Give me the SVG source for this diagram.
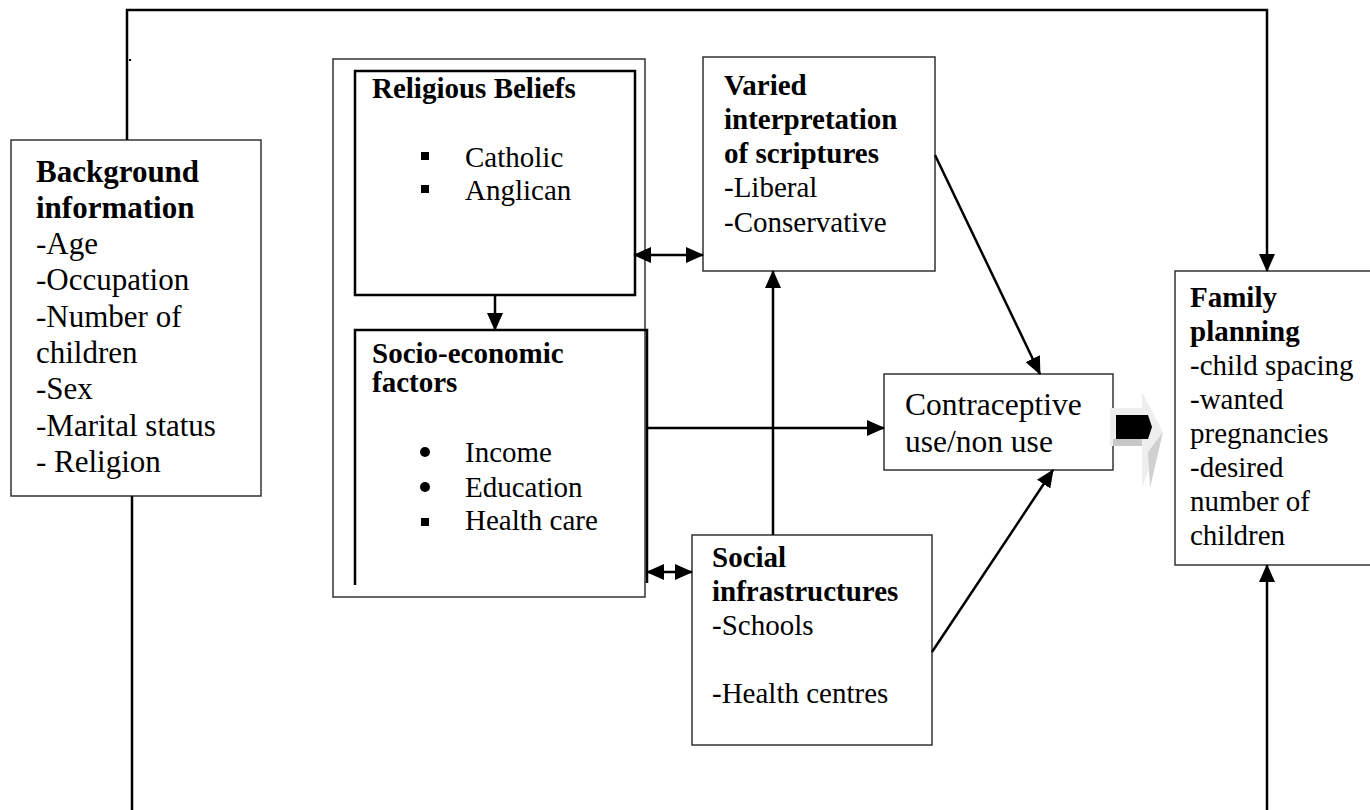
<svg xmlns="http://www.w3.org/2000/svg" width="1370" height="810" viewBox="0 0 1370 810">
<style>
text{font-family:"Liberation Serif","Times New Roman",serif;fill:#000}
.b{font-weight:bold}
.t31{font-size:31px}
.t29{font-size:29px}
.t32{font-size:31.5px}
.box{fill:#fff;stroke:#333;stroke-width:1.5}
.tbox{fill:#fff;stroke:#000;stroke-width:2.5}
.con{fill:none;stroke:#000;stroke-width:2.5}
</style>
<defs>
<marker id="ah" markerUnits="userSpaceOnUse" markerWidth="18" markerHeight="16" viewBox="0 0 18 16" refX="17" refY="8" orient="auto-start-reverse">
<path d="M0,0 L18,8 L0,16 Z" fill="#000"/>
</marker>
</defs>
<rect width="1370" height="810" fill="#fff"/>

<g id="outer">
<rect x="333" y="59" width="312" height="538" class="box"/>
</g>

<g id="background">
<rect x="11" y="140" width="250" height="356" class="box"/>
<text class="t31 b" x="36" y="182">Background</text>
<text class="t31 b" x="36" y="218">information</text>
<text class="t31" x="36" y="254">-Age</text>
<text class="t31" x="36" y="290">-Occupation</text>
<text class="t31" x="36" y="327">-Number of</text>
<text class="t31" x="36" y="363">children</text>
<text class="t31" x="36" y="399">-Sex</text>
<text class="t31" x="36" y="436">-Marital status</text>
<text class="t31" x="36" y="472">- Religion</text>
</g>

<g id="religious">
<rect x="355" y="71" width="280" height="224" class="tbox"/>
<text class="t29 b" x="372" y="98">Religious Beliefs</text>
<rect x="421" y="152" width="8" height="8" fill="#000"/>
<text class="t29" x="465" y="167">Catholic</text>
<rect x="421" y="185" width="8" height="8" fill="#000"/>
<text class="t29" x="465" y="200">Anglican</text>
</g>

<g id="socio">
<path d="M355,585 V330 H647 V583" fill="none" stroke="#000" stroke-width="2.5"/>
<text class="t29 b" x="372" y="363">Socio-economic</text>
<text class="t29 b" x="372" y="392">factors</text>
<circle cx="425" cy="452" r="5" fill="#000"/>
<text class="t29" x="465" y="462">Income</text>
<circle cx="425" cy="487" r="5" fill="#000"/>
<text class="t29" x="465" y="497">Education</text>
<rect x="421" y="518" width="8" height="8" fill="#000"/>
<text class="t29" x="465" y="530">Health care</text>
</g>

<g id="varied">
<rect x="703" y="57" width="232" height="214" class="box"/>
<text class="t29 b" x="724" y="95">Varied</text>
<text class="t29 b" x="724" y="129">interpretation</text>
<text class="t29 b" x="724" y="163">of scriptures</text>
<text class="t29" x="724" y="197">-Liberal</text>
<text class="t29" x="724" y="232">-Conservative</text>
</g>

<g id="social">
<rect x="692" y="535" width="240" height="210" class="box"/>
<text class="t29 b" x="712" y="567">Social</text>
<text class="t29 b" x="712" y="601">infrastructures</text>
<text class="t29" x="712" y="635">-Schools</text>
<text class="t29" x="712" y="703">-Health centres</text>
</g>

<g id="contraceptive">
<rect x="884" y="374" width="229" height="96" class="box"/>
<text class="t32" x="905" y="415">Contraceptive</text>
<text class="t32" x="905" y="452">use/non use</text>
</g>

<g id="family">
<rect x="1175" y="271" width="200" height="294" class="box"/>
<text class="t29 b" x="1190" y="307">Family</text>
<text class="t29 b" x="1190" y="341">planning</text>
<text class="t29" x="1190" y="375">-child spacing</text>
<text class="t29" x="1190" y="409">-wanted</text>
<text class="t29" x="1190" y="443">pregnancies</text>
<text class="t29" x="1190" y="477">-desired</text>
<text class="t29" x="1190" y="511">number of</text>
<text class="t29" x="1190" y="545">children</text>
</g>

<g id="blockarrow">
<polygon points="1110,408 1142,408 1142,392 1163,432 1142,488 1142,446 1110,446" fill="#eeeeee"/>
<polygon points="1113,439 1142,439 1142,446 1113,446" fill="#c8c8c8"/>
<polygon points="1148,452 1163,432 1150,488" fill="#d0d0d0"/>
<polygon points="1116,415 1148,415 1152,427 1148,439 1116,439" fill="#000"/>
</g>

<g id="connectors">
<path class="con" d="M127,140 V10 H1267 V271" marker-end="url(#ah)"/>
<path class="con" d="M132,496 V810"/>
<path class="con" d="M1267,810 V565" marker-end="url(#ah)"/>
<path class="con" d="M495,295 V330" marker-end="url(#ah)"/>
<path class="con" d="M634,255 H703" marker-start="url(#ah)" marker-end="url(#ah)"/>
<path class="con" d="M647,572 H692" marker-start="url(#ah)" marker-end="url(#ah)"/>
<path class="con" d="M648,428 H884" marker-end="url(#ah)"/>
<path class="con" d="M773,535 V271" marker-end="url(#ah)"/>
<path class="con" d="M935,155 L1040,374" marker-end="url(#ah)"/>
<path class="con" d="M932,652 L1053,470" marker-end="url(#ah)"/>
<rect x="129" y="59" width="2" height="2" fill="#000"/>
</g>
</svg>
